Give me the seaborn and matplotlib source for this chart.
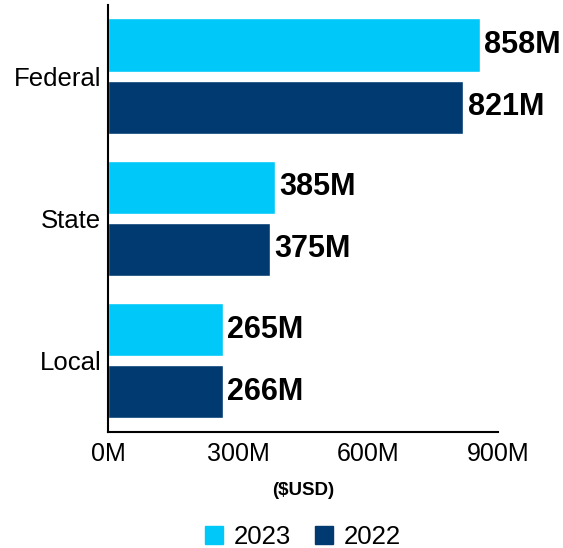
import pandas as pd
import matplotlib.pyplot as plt
from matplotlib.ticker import FuncFormatter
from matplotlib.patches import Patch
import seaborn as sns

categories = ['Federal', 'State', 'Local']
years = ['2023', '2022']
values_2023 = [858, 385, 265]
values_2022 = [821, 375, 266]
colors = {'2023': '#00C8F8', '2022': '#003A70'}

df = pd.DataFrame({
    'category': categories * 2,
    'year': ['2023'] * 3 + ['2022'] * 3,
    'value': values_2023 + values_2022,
})

sns.set_style('white')
plt.rcParams['font.family'] = ['Liberation Sans', 'DejaVu Sans']
plt.rcParams['text.color'] = 'black'
plt.rcParams['xtick.labelcolor'] = 'black'
plt.rcParams['ytick.labelcolor'] = 'black'
plt.rcParams['axes.labelcolor'] = 'black'

fig = plt.figure(figsize=(5.63, 5.48), dpi=100)
ax = fig.add_axes([0.192, 0.212, 0.692, 0.779])

sns.barplot(data=df, x='value', y='category', hue='year', hue_order=years,
            order=categories, palette=colors, orient='h', width=0.873, gap=0.145,
            saturation=1, ax=ax, legend=False)

for cont in ax.containers:
    ax.bar_label(cont, labels=[f'{v:.0f}M' for v in cont.datavalues], padding=3,
                 fontsize=22, fontweight='bold', color='black')

ax.set_xlim(0, 900)
ax.set_xticks([0, 300, 600, 900])
ax.xaxis.set_major_formatter(FuncFormatter(lambda x, p: f'{x:.0f}M'))
ax.set_xlabel('($USD)', fontsize=13.5, fontweight='bold', labelpad=12)
ax.set_ylabel('')
ax.tick_params(axis='x', direction='in', length=6, width=1, color='#888888',
               labelsize=18, pad=7)
ax.tick_params(axis='y', length=0, labelsize=18.5, pad=5)

for s in ['top', 'right']:
    ax.spines[s].set_visible(False)
for s in ['left', 'bottom']:
    ax.spines[s].set_color('black')
    ax.spines[s].set_linewidth(1.5)

handles = [Patch(color=colors[y], label=y) for y in years]
fig.legend(handles=handles, loc='center', bbox_to_anchor=(0.538, 0.02), ncol=2,
           frameon=False, fontsize=18.5, handlelength=0.7, handleheight=0.7,
           handletextpad=0.45, columnspacing=0.9)

fig.savefig('out.png', dpi=100)
